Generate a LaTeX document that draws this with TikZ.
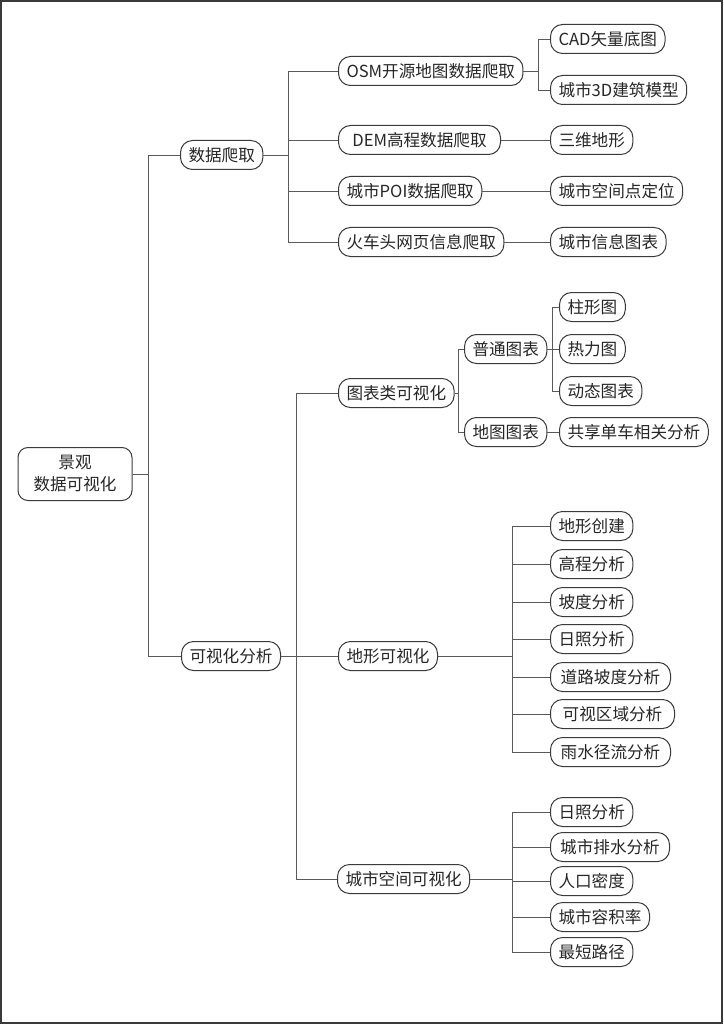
\documentclass[tikz,border=0pt]{standalone}
\usepackage{fontspec}
\setmainfont{Noto Sans CJK SC}
\definecolor{boxgray}{HTML}{3A3A3A}
\definecolor{linegray}{HTML}{5A5A5A}
\tikzset{
  topic/.style={draw=boxgray, line width=1pt, rounded corners=12pt,
    minimum height=29pt, inner xsep=8pt, inner ysep=0pt, anchor=west,
    text=black!85, font=\fontsize{16.6}{18}\selectfont},
  link/.style={draw=linegray, line width=0.9pt},
}
\begin{document}
\begin{tikzpicture}[x=1pt, y=-1pt]
    \useasboundingbox (0,0) rectangle (723,1024);
    \draw[boxgray, line width=1.4pt] (1,1) rectangle (722,1023);

    \node[draw=boxgray, line width=1pt, rounded corners=10pt, align=center,
      minimum width=114pt, minimum height=53pt, text=black!85,
      font=\fontsize{16.6}{22}\selectfont] (root) at (75,474) {景观\\数据可视化};

    \node[topic] (data) at (180,155) {数据爬取};
    \node[topic] (vis) at (181,656) {可视化分析};

    \node[topic] (osm) at (338,71) {OSM开源地图数据爬取};
    \node[topic, minimum width=162pt] (dem) at (338,140) {DEM高程数据爬取};
    \node[topic] (poi) at (338,191) {城市POI数据爬取};
    \node[topic] (hct) at (338,242) {火车头网页信息爬取};
    \node[topic] (cad) at (550,39) {CAD矢量底图};
    \node[topic] (bim) at (550,90) {城市3D建筑模型};
    \node[topic] (terr) at (550,140) {三维地形};
    \node[topic] (poipos) at (550,191) {城市空间点定位};
    \node[topic] (info) at (550,242) {城市信息图表};

    \node[topic] (chart) at (338,393) {图表类可视化};
    \node[topic] (common) at (464,349) {普通图表};
    \node[topic] (mapc) at (464,432) {地图图表};
    \node[topic] (bar) at (559,307) {柱形图};
    \node[topic] (heat) at (559,349) {热力图};
    \node[topic] (dyn) at (559,391) {动态图表};
    \node[topic] (bike) at (559,432) {共享单车相关分析};

    \node[topic] (terrvis) at (338,656) {地形可视化};
    \node[topic] (tmake) at (550,526) {地形创建};
    \node[topic] (telev) at (550,564) {高程分析};
    \node[topic] (tslope) at (550,602) {坡度分析};
    \node[topic] (tsun) at (550,639) {日照分析};
    \node[topic, minimum width=120pt] (troad) at (550,677) {道路坡度分析};
    \node[topic, minimum width=124pt] (tview) at (550,714) {可视区域分析};
    \node[topic, minimum width=120pt] (train) at (550,752) {雨水径流分析};

    \node[topic] (urban) at (337,879) {城市空间可视化};
    \node[topic] (usun) at (550,812) {日照分析};
    \node[topic, minimum width=119pt] (udrain) at (550,847) {城市排水分析};
    \node[topic] (upop) at (550,881) {人口密度};
    \node[topic] (ufar) at (550,917) {城市容积率};
    \node[topic] (upath) at (550,952) {最短路径};

    \coordinate (rbus) at (148,474);
    \coordinate (dbus) at (288,155);
    \coordinate (obus) at (538,71);
    \coordinate (vbus) at (296,656);
    \coordinate (cbus) at (458,393);
    \coordinate (pbus) at (552,349);
    \coordinate (tbus) at (512,656);
    \coordinate (ubus) at (512,879);

    \draw[link] (root.east) -- (rbus);
    \draw[link] (rbus) |- (data.west);
    \draw[link] (rbus) |- (vis.west);

    \draw[link] (data.east) -- (dbus);
    \foreach \n in {osm,dem,poi,hct}
      \draw[link] (dbus) |- (\n.west);
    \draw[link] (osm.east) -- (obus);
    \draw[link] (obus) |- (cad.west);
    \draw[link] (obus) |- (bim.west);
    \draw[link] (dem.east) -- (terr.west);
    \draw[link] (poi.east) -- (poipos.west);
    \draw[link] (hct.east) -- (info.west);

    \draw[link] (vis.east) -- (vbus);
    \foreach \n in {chart,terrvis,urban}
      \draw[link] (vbus) |- (\n.west);
    \draw[link] (chart.east) -- (cbus);
    \draw[link] (cbus) |- (common.west);
    \draw[link] (cbus) |- (mapc.west);
    \draw[link] (common.east) -- (pbus);
    \foreach \n in {bar,heat,dyn}
      \draw[link] (pbus) |- (\n.west);
    \draw[link] (mapc.east) -- (bike.west);

    \draw[link] (terrvis.east) -- (tbus);
    \foreach \n in {tmake,telev,tslope,tsun,troad,tview,train}
      \draw[link] (tbus) |- (\n.west);
    \draw[link] (urban.east) -- (ubus);
    \foreach \n in {usun,udrain,upop,ufar,upath}
      \draw[link] (ubus) |- (\n.west);
\end{tikzpicture}
\end{document}
